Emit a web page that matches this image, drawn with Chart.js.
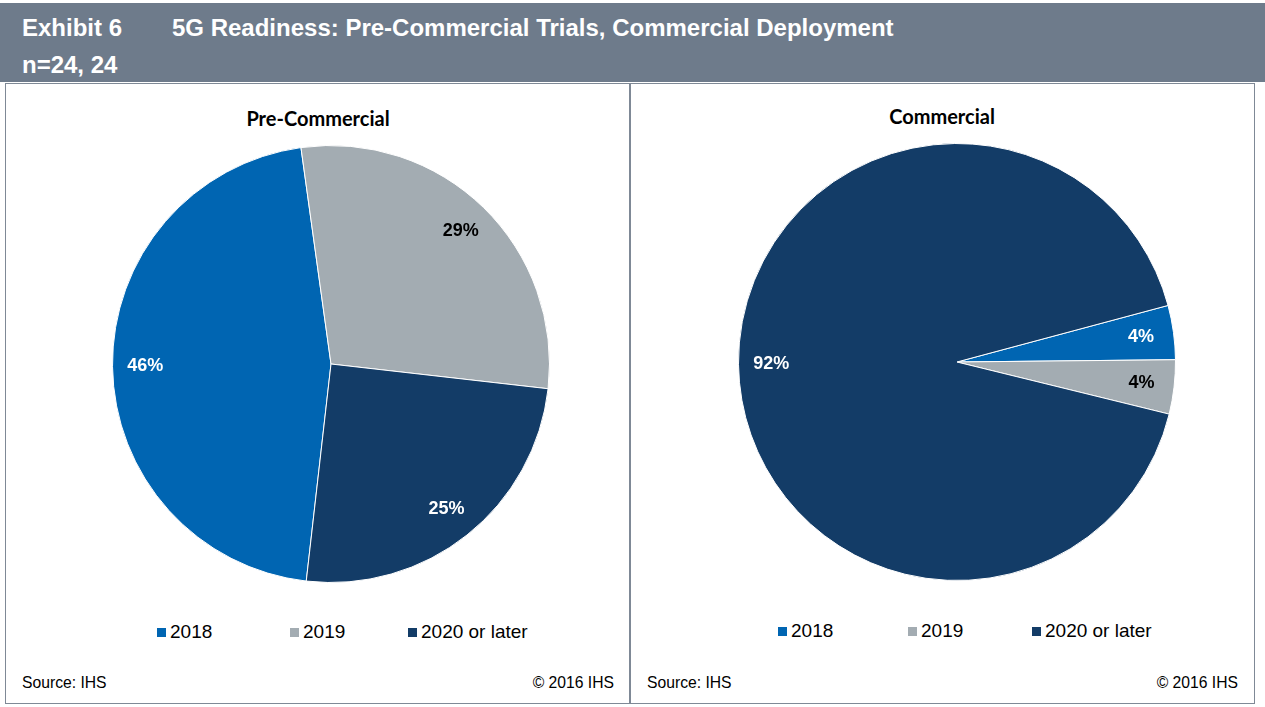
<!DOCTYPE html>
<html>
<head>
<meta charset="utf-8">
<script src="https://cdn.jsdelivr.net/npm/chart.js@4.4.1/dist/chart.umd.min.js"></script>
<style>
  body { margin: 0; background: #fff; font-family: "Liberation Sans", Arial, sans-serif; overflow: hidden; }
  #header { position: absolute; left: 0; top: 3px; width: 1265px; height: 79px; background: #6e7b8b; color: #fff; font-weight: bold; font-size: 24px; }
  #header div { position: absolute; white-space: nowrap; line-height: 1; }
  .panel { position: absolute; top: 83px; width: 625px; height: 621px; border: 1px solid #7f8996; box-sizing: border-box; }
  .ptitle { position: absolute; font-family: Lato, sans-serif; font-weight: bold; font-size: 20px; color: #000; transform: translate(-50%, -50%); white-space: nowrap; }
  .pie { position: absolute; width: 440px; height: 440px; }
  .legend { position: absolute; display: flex; align-items: center; font-size: 19px; color: #000; white-space: nowrap; transform: translateY(-50%); }
  .legend span.box { display: inline-block; width: 9px; height: 9px; margin-right: 4px; }
  .legend .item { display: flex; align-items: center; }
  .foot { position: absolute; font-size: 15.7px; color: #000; white-space: nowrap; transform: translateY(-50%); }
</style>
</head>
<body>
<div id="header">
  <div style="left:22px; top:13px;">Exhibit 6</div>
  <div style="left:172px; top:13px;">5G Readiness: Pre-Commercial Trials, Commercial Deployment</div>
  <div style="left:22px; top:50px;">n=24, 24</div>
</div>

<div class="panel" style="left:5px;"></div>
<div class="panel" style="left:630px;"></div>

<div class="ptitle" style="left:318px; top:118px;">Pre-Commercial</div>
<div class="ptitle" style="left:942px; top:116px;">Commercial</div>

<canvas id="preChart" class="pie" style="left:111px; top:144px;"></canvas>
<canvas id="comChart" class="pie" style="left:737px; top:142px;"></canvas>

<div id="preLegend" class="legend" style="left:157px; top:632px;"></div>
<div id="comLegend" class="legend" style="left:778px; top:631px;"></div>

<div class="foot" style="left:22px; top:683px;">Source: IHS</div>
<div class="foot" style="right:651px; top:683px;">© 2016 IHS</div>
<div class="foot" style="left:647px; top:683px;">Source: IHS</div>
<div class="foot" style="right:27px; top:683px;">© 2016 IHS</div>

<script>
"use strict";

const years = ["2018", "2019", "2020 or later"];
const preCommercial = [46, 29, 25];   // % of respondents, n=24
const commercial = [4, 4, 92];        // % of respondents, n=24

const sliceColors = ["#0065b2", "#a3acb2", "#133c67"];
const labelColors = ["#ffffff", "#000000", "#ffffff"];

// percentage text inside each slice
const pctLabels = {
    id: "pctLabels",
    afterDatasetsDraw(chart) {
        var ctx = chart.ctx;
        var values = chart.data.datasets[0].data;
        chart.getDatasetMeta(0).data.forEach(function (arc, i) {
            var mid = (arc.startAngle + arc.endAngle) / 2;
            var r = arc.outerRadius * 0.85;
            ctx.save();
            ctx.font = "bold 18px 'Liberation Sans', Arial, sans-serif";
            ctx.fillStyle = labelColors[i];
            ctx.textAlign = "center";
            ctx.textBaseline = "middle";
            ctx.fillText(values[i] + "%", arc.x + Math.cos(mid) * r, arc.y + Math.sin(mid) * r);
            ctx.restore();
        });
    }
};

// html legend built from the chart's own legend items
function htmlLegend(containerId, widths) {
    return {
        id: "htmlLegend",
        afterUpdate(chart) {
            var box = document.getElementById(containerId);
            box.innerHTML = "";
            var items = chart.options.plugins.legend.labels.generateLabels(chart);
            items.forEach(function (item, i) {
                var el = document.createElement("div");
                el.className = "item";
                if (widths[i]) el.style.width = widths[i] + "px";
                var sw = document.createElement("span");
                sw.className = "box";
                sw.style.background = item.fillStyle;
                el.appendChild(sw);
                el.appendChild(document.createTextNode(item.text));
                box.appendChild(el);
            });
        }
    };
}

function makePie(canvasId, values, rotation, legendId, widths) {
    return new Chart(document.getElementById(canvasId), {
        type: "pie",
        data: {
            labels: years,
            datasets: [{
                data: values,
                backgroundColor: sliceColors,
                borderColor: "#ffffff",
                borderWidth: 1
            }]
        },
        options: {
            responsive: false,
            animation: false,
            rotation: rotation,
            layout: { padding: 1 },
            plugins: {
                legend: { display: false },
                tooltip: { enabled: false }
            }
        },
        plugins: [pctLabels, htmlLegend(legendId, widths)]
    });
}

var preChart = makePie("preChart", preCommercial, 186.5, "preLegend", [133, 118]);
var comChart = makePie("comChart", commercial, 75, "comLegend", [130, 124]);
</script>
</body>
</html>
